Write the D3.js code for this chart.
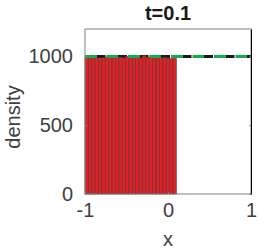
<!DOCTYPE html>
<html>
<head>
<meta charset="utf-8">
<script src="https://cdn.jsdelivr.net/npm/d3@7"></script>
<style>
body { margin:0; background:#fff; }
text { font-family: "Liberation Sans", Arial, Helvetica, sans-serif; }
</style>
</head>
<body>
<div id="chart"></div>
<script>
// histogram bin edges start / width and the counts per bin
var binStart = -1;
var binWidth = 1.1 / 27;
var densities = [995, 995, 998, 990, 985, 992, 996, 994, 990, 998, 995, 990, 1000, 996, 994, 998, 990, 1006, 995, 992, 990, 996, 988, 994, 990, 985, 992];
// reference lines
var exactX = [-1, 1];
var exactY = [1000, 1000];
var xTicks = [-1, 0, 1];
var yTicks = [0, 500, 1000];
var title = "t=0.1";

var width = 258, height = 251;
var margin = {top:29, right:7, bottom:57, left:85};

var svg = d3.select("#chart").append("svg")
    .attr("width", width)
    .attr("height", height);

var x = d3.scaleLinear().domain([-1, 1]).range([margin.left, width - margin.right]);
var y = d3.scaleLinear().domain([0, 1200]).range([height - margin.bottom, margin.top]);

var bins = densities.map(function(d, i) {
  return {x0: binStart + i * binWidth, x1: binStart + (i + 1) * binWidth, v: d};
});

var line = d3.line()
    .x(function(d) { return x(d[0]); })
    .y(function(d) { return y(d[1]); });
var pts = exactX.map(function(d, i) { return [d, exactY[i]]; });

// black dashed line, below the bars
svg.append("path")
    .datum(pts)
    .attr("d", line)
    .attr("fill", "none")
    .attr("stroke", "#1a1a1a")
    .attr("stroke-width", 3)
    .attr("stroke-dasharray", "9,12.5")
    .attr("stroke-dashoffset", -11.5);

svg.append("g")
  .selectAll("rect")
  .data(bins)
  .enter()
  .append("rect")
    .attr("x", function(d) { return x(d.x0); })
    .attr("width", function(d) { return x(d.x1) - x(d.x0); })
    .attr("y", function(d) { return y(d.v); })
    .attr("height", function(d) { return y(0) - y(d.v); })
    .attr("fill", "#e41f26")
    .attr("stroke", "#4a3a3a")
    .attr("stroke-width", 0.6);

// green dashed line on top
svg.append("path")
    .datum(pts)
    .attr("d", line)
    .attr("fill", "none")
    .attr("stroke", "#12ad4f")
    .attr("stroke-width", 3)
    .attr("stroke-dasharray", "11.5,10");

// axes box
var axisColor = "#808080";
svg.append("rect")
    .attr("x", x(-1))
    .attr("y", y(1200))
    .attr("width", x(1) - x(-1))
    .attr("height", y(0) - y(1200))
    .attr("fill", "none")
    .attr("stroke", axisColor)
    .attr("stroke-width", 1);

var fmt = function(d) { return String(d); };
var gx = svg.append("g")
    .attr("transform", "translate(0," + y(0) + ")")
    .call(d3.axisBottom(x).tickValues(xTicks).tickSizeInner(-2).tickSizeOuter(0).tickPadding(9).tickFormat(fmt));
var gy = svg.append("g")
    .attr("transform", "translate(" + x(-1) + ",0)")
    .call(d3.axisLeft(y).tickValues(yTicks).tickSizeInner(-2).tickSizeOuter(0).tickPadding(12).tickFormat(fmt));
// right side ticks
svg.append("g")
    .attr("transform", "translate(" + x(1) + ",0)")
    .call(d3.axisRight(y).tickValues(yTicks).tickSizeInner(-2).tickSizeOuter(0).tickFormat(""));

[gx, gy].forEach(function(g) {
  g.select(".domain").remove();
  g.selectAll("text")
    .attr("font-size", 20)
    .attr("font-family", "Liberation Sans, Arial, sans-serif")
    .attr("fill", "#404040");
});
svg.selectAll(".tick line").attr("stroke", axisColor);
gx.selectAll("text").attr("dy", "0.71em");

svg.append("text")
    .attr("x", (x(-1) + x(1)) / 2)
    .attr("y", 20)
    .attr("text-anchor", "middle")
    .attr("font-size", 20)
    .attr("font-weight", "bold")
    .attr("fill", "#1a1a1a")
    .text(title);

svg.append("text")
    .attr("x", (x(-1) + x(1)) / 2)
    .attr("y", 246)
    .attr("text-anchor", "middle")
    .attr("font-size", 20)
    .attr("fill", "#404040")
    .text("x");

svg.append("text")
    .attr("transform", "translate(20," + 117 + ") rotate(-90)")
    .attr("text-anchor", "middle")
    .attr("font-size", 20)
    .attr("fill", "#404040")
    .text("density");
</script>
</body>
</html>
